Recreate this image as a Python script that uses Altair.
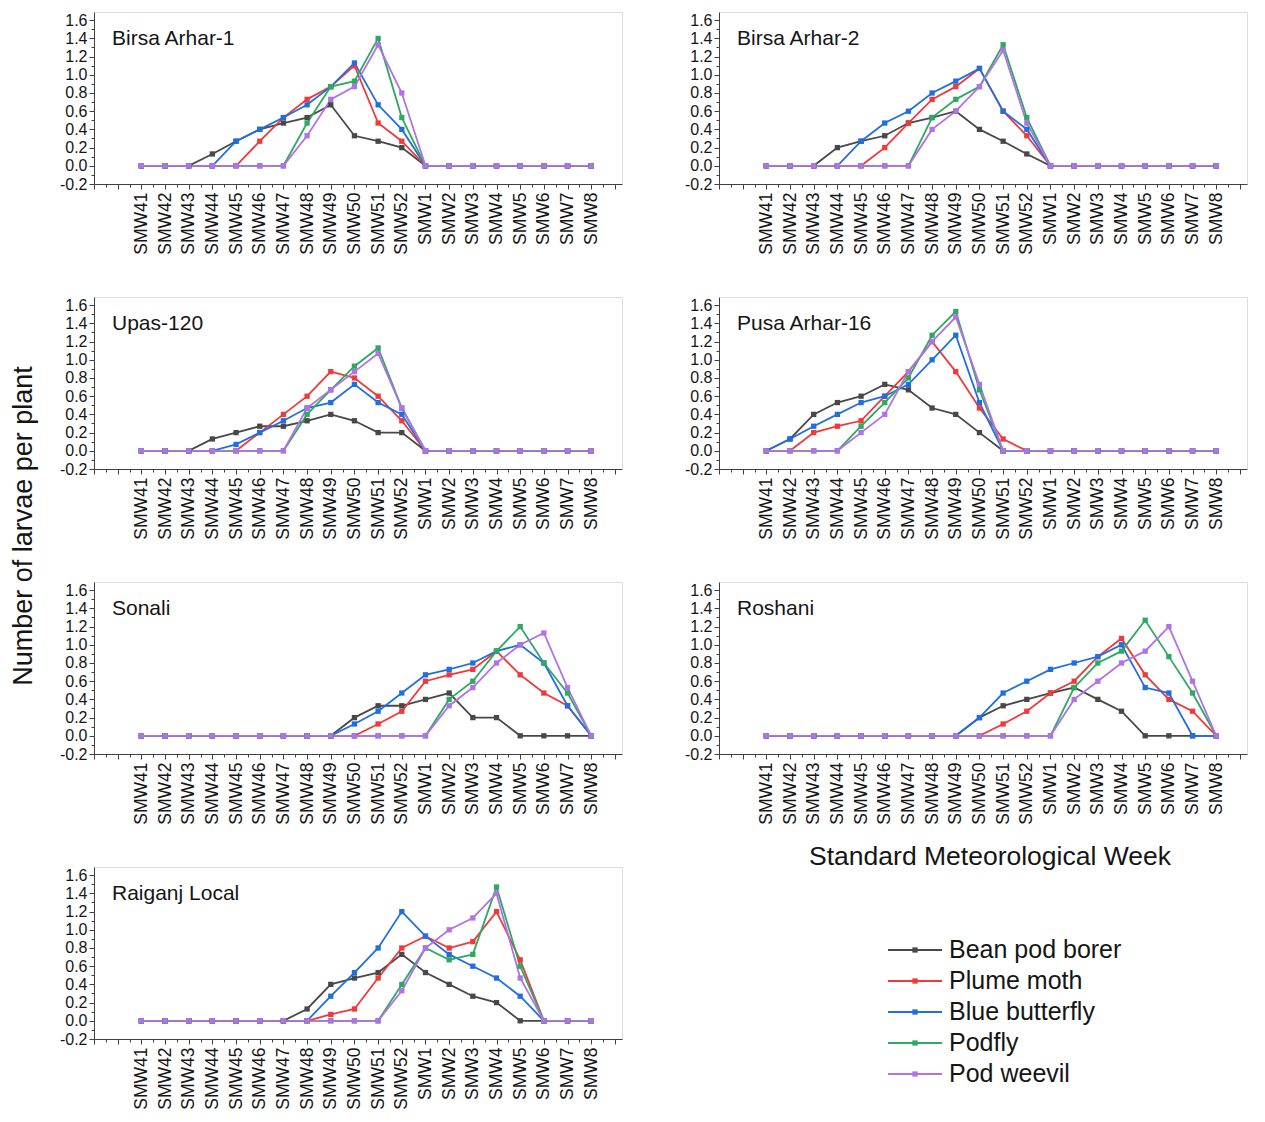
import altair as alt
import pandas as pd

FONT = "Liberation Sans"

weeks = ["SMW41", "SMW42", "SMW43", "SMW44", "SMW45", "SMW46", "SMW47", "SMW48",
         "SMW49", "SMW50", "SMW51", "SMW52", "SMW1", "SMW2", "SMW3", "SMW4",
         "SMW5", "SMW6", "SMW7", "SMW8"]
series_names = ["Bean pod borer", "Plume moth", "Blue butterfly", "Podfly", "Pod weevil"]
series_colors = ["#484848", "#f03a3a", "#1f6fe0", "#2fa862", "#b172e6"]
varieties = ["Birsa Arhar-1", "Birsa Arhar-2", "Upas-120", "Pusa Arhar-16",
             "Sonali", "Roshani", "Raiganj Local"]

# Birsa Arhar-1
ba1_bpb = [0, 0, 0, 0.13, 0.27, 0.4, 0.47, 0.53, 0.67, 0.33, 0.27, 0.2, 0, 0, 0, 0, 0, 0, 0, 0]
ba1_pm = [0, 0, 0, 0, 0, 0.27, 0.53, 0.73, 0.87, 1.1, 0.47, 0.27, 0, 0, 0, 0, 0, 0, 0, 0]
ba1_bb = [0, 0, 0, 0, 0.27, 0.4, 0.53, 0.67, 0.87, 1.13, 0.67, 0.4, 0, 0, 0, 0, 0, 0, 0, 0]
ba1_pf = [0, 0, 0, 0, 0, 0, 0, 0.47, 0.87, 0.93, 1.4, 0.53, 0, 0, 0, 0, 0, 0, 0, 0]
ba1_pw = [0, 0, 0, 0, 0, 0, 0, 0.33, 0.73, 0.87, 1.33, 0.8, 0, 0, 0, 0, 0, 0, 0, 0]
# Birsa Arhar-2
ba2_bpb = [0, 0, 0, 0.2, 0.27, 0.33, 0.47, 0.53, 0.6, 0.4, 0.27, 0.13, 0, 0, 0, 0, 0, 0, 0, 0]
ba2_pm = [0, 0, 0, 0, 0, 0.2, 0.47, 0.73, 0.87, 1.07, 0.6, 0.33, 0, 0, 0, 0, 0, 0, 0, 0]
ba2_bb = [0, 0, 0, 0, 0.27, 0.47, 0.6, 0.8, 0.93, 1.07, 0.6, 0.4, 0, 0, 0, 0, 0, 0, 0, 0]
ba2_pf = [0, 0, 0, 0, 0, 0, 0, 0.53, 0.73, 0.87, 1.33, 0.53, 0, 0, 0, 0, 0, 0, 0, 0]
ba2_pw = [0, 0, 0, 0, 0, 0, 0, 0.4, 0.6, 0.87, 1.27, 0.47, 0, 0, 0, 0, 0, 0, 0, 0]
# Upas-120
up_bpb = [0, 0, 0, 0.13, 0.2, 0.27, 0.27, 0.33, 0.4, 0.33, 0.2, 0.2, 0, 0, 0, 0, 0, 0, 0, 0]
up_pm = [0, 0, 0, 0, 0, 0.2, 0.4, 0.6, 0.87, 0.8, 0.6, 0.33, 0, 0, 0, 0, 0, 0, 0, 0]
up_bb = [0, 0, 0, 0, 0.07, 0.2, 0.33, 0.47, 0.53, 0.73, 0.53, 0.4, 0, 0, 0, 0, 0, 0, 0, 0]
up_pf = [0, 0, 0, 0, 0, 0, 0, 0.4, 0.67, 0.93, 1.13, 0.47, 0, 0, 0, 0, 0, 0, 0, 0]
up_pw = [0, 0, 0, 0, 0, 0, 0, 0.47, 0.67, 0.87, 1.07, 0.47, 0, 0, 0, 0, 0, 0, 0, 0]
# Pusa Arhar-16
pa_bpb = [0, 0.13, 0.4, 0.53, 0.6, 0.73, 0.67, 0.47, 0.4, 0.2, 0, 0, 0, 0, 0, 0, 0, 0, 0, 0]
pa_pm = [0, 0, 0.2, 0.27, 0.33, 0.6, 0.87, 1.2, 0.87, 0.47, 0.13, 0, 0, 0, 0, 0, 0, 0, 0, 0]
pa_bb = [0, 0.13, 0.27, 0.4, 0.53, 0.6, 0.73, 1.0, 1.27, 0.53, 0, 0, 0, 0, 0, 0, 0, 0, 0, 0]
pa_pf = [0, 0, 0, 0, 0.27, 0.53, 0.8, 1.27, 1.53, 0.67, 0, 0, 0, 0, 0, 0, 0, 0, 0, 0]
pa_pw = [0, 0, 0, 0, 0.2, 0.4, 0.87, 1.2, 1.47, 0.73, 0, 0, 0, 0, 0, 0, 0, 0, 0, 0]
# Sonali
so_bpb = [0, 0, 0, 0, 0, 0, 0, 0, 0, 0.2, 0.33, 0.33, 0.4, 0.47, 0.2, 0.2, 0, 0, 0, 0]
so_pm = [0, 0, 0, 0, 0, 0, 0, 0, 0, 0, 0.13, 0.27, 0.6, 0.67, 0.73, 0.93, 0.67, 0.47, 0.33, 0]
so_bb = [0, 0, 0, 0, 0, 0, 0, 0, 0, 0.13, 0.27, 0.47, 0.67, 0.73, 0.8, 0.93, 1.0, 0.8, 0.33, 0]
so_pf = [0, 0, 0, 0, 0, 0, 0, 0, 0, 0, 0, 0, 0, 0.4, 0.6, 0.93, 1.2, 0.8, 0.47, 0]
so_pw = [0, 0, 0, 0, 0, 0, 0, 0, 0, 0, 0, 0, 0, 0.33, 0.53, 0.8, 1.0, 1.13, 0.53, 0]
# Roshani
ro_bpb = [0, 0, 0, 0, 0, 0, 0, 0, 0, 0.2, 0.33, 0.4, 0.47, 0.53, 0.4, 0.27, 0, 0, 0, 0]
ro_pm = [0, 0, 0, 0, 0, 0, 0, 0, 0, 0, 0.13, 0.27, 0.47, 0.6, 0.87, 1.07, 0.67, 0.4, 0.27, 0]
ro_bb = [0, 0, 0, 0, 0, 0, 0, 0, 0, 0.2, 0.47, 0.6, 0.73, 0.8, 0.87, 1.0, 0.53, 0.47, 0, 0]
ro_pf = [0, 0, 0, 0, 0, 0, 0, 0, 0, 0, 0, 0, 0, 0.53, 0.8, 0.93, 1.27, 0.87, 0.47, 0]
ro_pw = [0, 0, 0, 0, 0, 0, 0, 0, 0, 0, 0, 0, 0, 0.4, 0.6, 0.8, 0.93, 1.2, 0.6, 0]
# Raiganj Local
rl_bpb = [0, 0, 0, 0, 0, 0, 0, 0.13, 0.4, 0.47, 0.53, 0.73, 0.53, 0.4, 0.27, 0.2, 0, 0, 0, 0]
rl_pm = [0, 0, 0, 0, 0, 0, 0, 0, 0.07, 0.13, 0.47, 0.8, 0.93, 0.8, 0.87, 1.2, 0.67, 0, 0, 0]
rl_bb = [0, 0, 0, 0, 0, 0, 0, 0, 0.27, 0.53, 0.8, 1.2, 0.93, 0.73, 0.6, 0.47, 0.27, 0, 0, 0]
rl_pf = [0, 0, 0, 0, 0, 0, 0, 0, 0, 0, 0, 0.4, 0.8, 0.67, 0.73, 1.47, 0.6, 0, 0, 0]
rl_pw = [0, 0, 0, 0, 0, 0, 0, 0, 0, 0, 0, 0.33, 0.8, 1.0, 1.13, 1.4, 0.47, 0, 0, 0]

panel_values = {
    "Birsa Arhar-1": [ba1_bpb, ba1_pm, ba1_bb, ba1_pf, ba1_pw],
    "Birsa Arhar-2": [ba2_bpb, ba2_pm, ba2_bb, ba2_pf, ba2_pw],
    "Upas-120": [up_bpb, up_pm, up_bb, up_pf, up_pw],
    "Pusa Arhar-16": [pa_bpb, pa_pm, pa_bb, pa_pf, pa_pw],
    "Sonali": [so_bpb, so_pm, so_bb, so_pf, so_pw],
    "Roshani": [ro_bpb, ro_pm, ro_bb, ro_pf, ro_pw],
    "Raiganj Local": [rl_bpb, rl_pm, rl_bb, rl_pf, rl_pw],
}

y_title = "Number of larvae per plant"
x_title = "Standard Meteorological Week"

W, H = 528, 172
TXT = "#151515"
AX = "#404040"


def long_df(name):
    rows = []
    for s, vals in zip(series_names, panel_values[name]):
        for i, v in enumerate(vals):
            rows.append({"idx": i, "week": weeks[i], "series": s, "value": v})
    return pd.DataFrame(rows)


x_ticks = [i / 2 for i in range(-4, 41)]
y_ticks = [round(-0.2 + 0.1 * i, 1) for i in range(19)]
week_js = "[" + ",".join("'%s'" % w for w in weeks) + "]"
x_label_expr = ("(datum.value >= 0 && datum.value <= %d && datum.value == floor(datum.value)) ? %s[datum.value] : ''"
                % (len(weeks) - 1, week_js))
y_label_expr = "round(datum.value*10) % 2 == 0 ? replace(format(datum.value, '.1f'), '\u2212', '-') : ''"

x_axis = alt.Axis(values=x_ticks, labelExpr=x_label_expr, labelAngle=270, labelFontSize=17.5,
                  labelFont=FONT, labelColor=TXT, labelOverlap=False, labelFlush=False,
                  labelPadding=3, title=None, grid=False, domainColor=AX, tickColor=AX,
                  tickSize={"condition": {"test": "datum.value == floor(datum.value)", "value": 5}, "value": 3})
y_axis = alt.Axis(values=y_ticks, labelExpr=y_label_expr, labelFontSize=16, labelFont=FONT,
                  labelColor=TXT, labelOverlap=False, labelFlush=False, labelPadding=2,
                  title=None, grid=False, domainColor=AX, tickColor=AX,
                  tickSize={"condition": {"test": "round(datum.value*10) % 2 == 0", "value": 5}, "value": 3})

color_enc = alt.Color("series:N", scale=alt.Scale(domain=series_names, range=series_colors), legend=None)


def panel(name, extra=None):
    df = long_df(name)
    lines = alt.Chart(df).mark_line(
        strokeWidth=1.8,
        point=alt.OverlayMarkDef(shape="square", size=28, filled=True, opacity=1),
    ).encode(
        x=alt.X("idx:Q", scale=alt.Scale(domain=[-2, 20.3], nice=False, zero=False), axis=x_axis),
        y=alt.Y("value:Q", scale=alt.Scale(domain=[-0.2, 1.69], nice=False, zero=False), axis=y_axis),
        color=color_enc,
    )
    label = alt.Chart(pd.DataFrame({"name": [name]})).mark_text(
        align="left", baseline="middle", fontSize=21, font=FONT, color=TXT
    ).encode(x=alt.value(18), y=alt.value(27), text="name:N")
    layers = [lines, label]
    if extra is not None:
        layers.append(extra)
    return alt.layer(*layers).properties(width=W, height=H)


ytitle_layer = alt.Chart(pd.DataFrame({"t": [y_title]})).mark_text(
    align="center", baseline="middle", angle=270, fontSize=27, font=FONT, color=TXT
).encode(x=alt.value(-70), y=alt.value(229), text="t:N")

xtitle_layer = alt.Chart(pd.DataFrame({"t": [x_title]})).mark_text(
    align="center", baseline="middle", fontSize=26.5, font=FONT, color=TXT
).encode(x=alt.value(271), y=alt.value(275), text="t:N")

leg_df = pd.DataFrame({"series": series_names})
leg_y = alt.Y("series:N", scale=alt.Scale(type="point", domain=series_names, range=[83, 207], padding=0), axis=None)
leg_rule = alt.Chart(leg_df).mark_rule(strokeWidth=1.8).encode(
    y=leg_y, x=alt.value(169), x2=alt.value(223), color=color_enc)
leg_pt = alt.Chart(leg_df).mark_point(shape="square", size=28, filled=True, opacity=1).encode(
    y=leg_y, x=alt.value(196), color=color_enc)
leg_txt = alt.Chart(leg_df).mark_text(align="left", baseline="middle", fontSize=25, font=FONT, color=TXT).encode(
    y=leg_y, x=alt.value(230), text="series:N")
legend_cell = alt.layer(leg_rule, leg_pt, leg_txt).properties(
    width=W, height=H, view=alt.ViewBackground(strokeOpacity=0))

panels = [
    panel("Birsa Arhar-1"),
    panel("Birsa Arhar-2"),
    panel("Upas-120", ytitle_layer),
    panel("Pusa Arhar-16"),
    panel("Sonali"),
    panel("Roshani", xtitle_layer),
    panel("Raiganj Local"),
    legend_cell,
]

chart = alt.concat(*panels, columns=2, spacing={"row": 113, "column": 97}, bounds="flush").resolve_scale(
    x="independent", y="independent"
).properties(
    padding={"left": 1, "top": 3, "right": 5, "bottom": 5}
).configure_view(
    stroke=AX, strokeWidth=1
).configure(
    font=FONT, background="white"
)

chart.save("out.html", embed_options={"renderer": "svg", "actions": False})
